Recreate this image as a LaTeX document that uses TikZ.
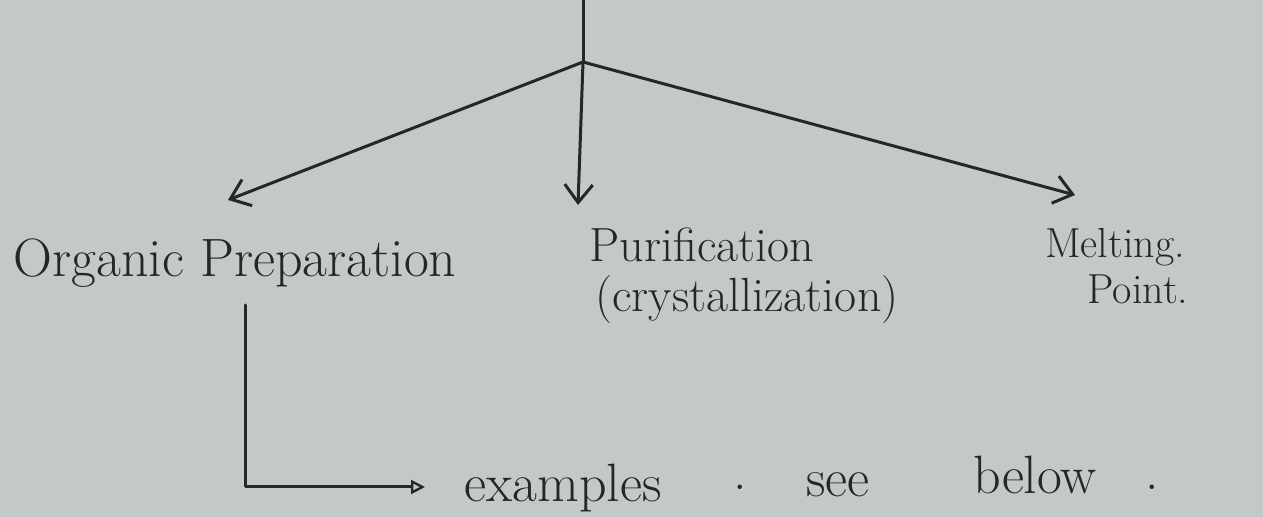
\documentclass[tikz,border=0pt]{standalone}
\usetikzlibrary{arrows.meta}
\definecolor{paper}{RGB}{197,200,201}
\definecolor{ink}{RGB}{38,38,40}
\begin{document}
\begin{tikzpicture}[x=0.5pt,y=-0.5pt,
  ink/.style={draw=ink,line width=1.5pt,line cap=round,line join=round},
  barb/.style={ink,-{Straight Barb[length=9pt,width=14pt,line width=1.5pt]}},
  tri/.style={ink,-{Triangle[open,length=7pt,width=7pt,line width=1.2pt]}},
  lbl/.style={text=ink,font=\fontsize{24}{26}\selectfont,inner sep=0pt,anchor=base},
  lblo/.style={text=ink,font=\fontsize{27}{29}\selectfont,inner sep=0pt,anchor=base},
  lbls/.style={text=ink,font=\fontsize{21}{23}\selectfont,inner sep=0pt,anchor=base},
  lblb/.style={text=ink,font=\fontsize{27}{29}\selectfont,inner sep=0pt,anchor=base}]
\fill[paper] (0,0) rectangle (1263,517);
\useasboundingbox (0,0) rectangle (1263,517);
\coordinate (top) at (583,0);
\coordinate (br) at (583,62);
\coordinate (lt) at (228,200);
\coordinate (dt) at (578,205);
\coordinate (rt) at (1075,195);
\node[lblo] (org) at (235,277) {Organic Preparation};
\node[lbl] (pur) at (702,262) {Purification};
\node[lbl] (cry) at (747,312) {(crystallization)};
\node[lbls] (mel) at (1115,258) {Melting.};
\node[lbls] (pnt) at (1138,304) {Point.};
\coordinate (c1) at (245,305);
\coordinate (c2) at (245,487);
\coordinate (c3) at (425,487);
\node[lblb] (ex) at (563,502) {examples};
\node[lblb] (d1) at (740,490) {.};
\node[lblb] (see) at (838,497) {see};
\node[lblb] (bel) at (1035,494) {below};
\node[lblb] (d2) at (1152,490) {.};
\draw[ink] (top) -- (br);
\draw[barb] (br) -- (lt);
\draw[barb] (br) -- (dt);
\draw[barb] (br) -- (rt);
\draw[tri] (c1) -- (c2) -- (c3);
\end{tikzpicture}
\end{document}
